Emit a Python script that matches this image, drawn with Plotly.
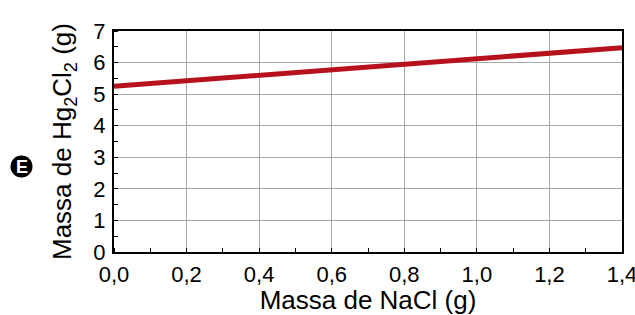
import plotly.graph_objects as go

nacl = [0.0, 0.2, 0.4, 0.6, 0.8, 1.0, 1.2, 1.4]
hg2cl2 = [5.25, 5.42, 5.60, 5.78, 5.95, 6.12, 6.30, 6.47]
x_ticks = [0.0, 0.2, 0.4, 0.6, 0.8, 1.0, 1.2, 1.4]
x_labels = ["0,0", "0,2", "0,4", "0,6", "0,8", "1,0", "1,2", "1,4"]
y_ticks = [0, 1, 2, 3, 4, 5, 6, 7]

FONT = "Liberation Sans"

L, R, T, B = 114, 13, 31, 63
W, H = 635, 315
PW, PH = W - L - R, H - T - B

fig = go.Figure()
fig.add_trace(go.Scatter(x=nacl, y=hg2cl2, mode="lines",
                         line=dict(color="#b5121b", width=5), showlegend=False))

fig.update_layout(
    width=W, height=H,
    margin=dict(l=L, r=R, t=T, b=B, autoexpand=False),
    paper_bgcolor="white", plot_bgcolor="white",
    font=dict(family=FONT, size=22, color="black"),
)
fig.update_xaxes(
    range=[0, 1.400001], tickvals=x_ticks, ticktext=x_labels, automargin=False,
    ticklabeloverflow="allow",
    showgrid=True, gridcolor="#a8a8a8", gridwidth=1,
    showline=True, linecolor="black", linewidth=2, mirror=True,
    ticks="outside", ticklen=2, tickcolor="rgba(0,0,0,0)",
    minor=dict(dtick=0.1, tick0=0, ticks="inside", ticklen=4, tickcolor="black", showgrid=False),
    tickfont=dict(size=22, family=FONT), zeroline=False,
    title=dict(text="Massa de NaCl (g)", font=dict(size=26, family=FONT), standoff=4),
)
fig.update_yaxes(
    range=[0, 7], tickvals=y_ticks, automargin=False,
    showgrid=True, gridcolor="#a8a8a8", gridwidth=1,
    showline=True, linecolor="black", linewidth=2, mirror=True,
    ticks="outside", ticklen=2, tickcolor="rgba(0,0,0,0)",
    minor=dict(dtick=0.5, tick0=0, ticks="inside", ticklen=4, tickcolor="black", showgrid=False),
    tickfont=dict(size=22, family=FONT), zeroline=False,
    title=dict(text="Massa de Hg<sub>2</sub>Cl<sub>2</sub> (g)", font=dict(size=26, family=FONT), standoff=14),
)
cx, cy, r = 21.5, 166.5, 11
fig.add_shape(type="circle", xref="paper", yref="paper",
              x0=(cx - r - L) / PW, x1=(cx + r - L) / PW,
              y0=(H - B - cy - r) / PH, y1=(H - B - cy + r) / PH,
              fillcolor="black", line=dict(color="black", width=0))
fig.add_annotation(xref="paper", yref="paper", x=(cx - L) / PW, y=(H - B - cy) / PH,
                   text="<b>E</b>", showarrow=False,
                   font=dict(color="white", size=18, family=FONT),
                   xanchor="center", yanchor="middle")

fig.write_html("out.html", config={"displayModeBar": False},
               post_script="document.body.style.margin='0';document.body.style.padding='0';document.body.style.overflow='hidden';")
